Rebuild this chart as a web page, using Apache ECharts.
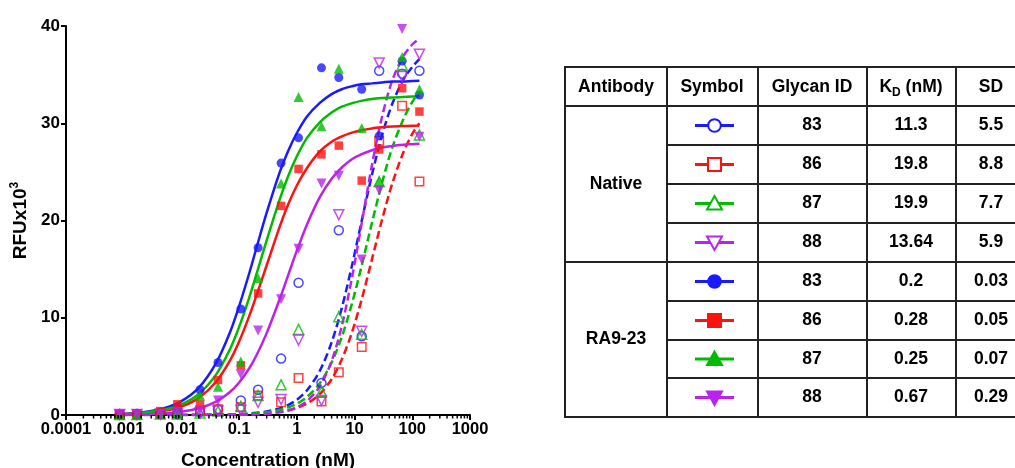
<!DOCTYPE html>
<html><head><meta charset="utf-8">
<script src="https://cdn.jsdelivr.net/npm/echarts@6/dist/echarts.min.js"></script>
<style>html,body{margin:0;padding:0;background:#fff}#c{width:1015px;height:468px}</style>
</head><body><div id="c"></div>
<script>
// ---------------- data ----------------
const doses = [0.00085, 0.0017, 0.0043, 0.0085, 0.021, 0.043, 0.107, 0.213, 0.533, 1.07, 2.67, 5.33, 13.3, 26.7, 66.7, 133];
const ra83 = [0.05, 0.1, 0.3, 0.8, 2.6, 5.4, 10.9, 17.2, 25.9, 28.5, 35.7, 34.7, 33.5, 28.7, 36.4, 32.9];
const ra86 = [0.05, 0.1, 0.4, 1.1, 1.1, 3.6, 5.1, 12.5, 21.5, 25.3, 26.8, 27.7, 24.1, 27.3, 33.6, 31.2];
const ra87 = [0.05, 0.05, 0.2, 0.3, 2.0, 2.9, 5.5, 14.1, 23.8, 32.7, 29.7, 35.6, 29.5, 24.0, 36.8, 33.5];
const ra88 = [0.05, 0.05, 0.1, 0.3, 0.5, 1.5, 4.2, 8.7, 11.9, 17.1, 23.8, 24.6, 16.0, 23.1, 39.7, 28.6];
const n83 = [0.05, 0.05, 0.1, 0.1, 0.3, 0.6, 1.5, 2.6, 5.8, 13.6, 3.3, 19.0, 8.1, 35.4, 35.1, 35.4];
const n86 = [0.05, 0.05, 0.1, 0.2, 0.4, 0.6, 0.8, 2.0, 1.3, 3.8, 1.4, 4.4, 7.0, 28.2, 31.8, 24.0];
const n87 = [0.05, 0.05, 0.1, 0.1, 0.2, 0.4, 0.9, 2.0, 3.1, 8.8, 2.4, 10.1, 8.3, 24.0, 36.0, 28.8];
const n88 = [0.05, 0.05, 0.1, 0.1, 0.2, 0.4, 0.5, 1.3, 1.6, 7.7, 1.5, 20.6, 8.6, 36.2, 34.8, 37.1];

// fitted curves
const curveX = [0.00085, 0.002, 0.005, 0.01, 0.02, 0.04, 0.07, 0.1, 0.15, 0.2, 0.3, 0.5, 0.7, 1, 1.5, 2.5, 4, 6, 9, 13, 20, 30, 45, 70, 100, 133];
const fitRA83 = [0.11, 0.27, 0.70, 1.42, 2.81, 5.36, 8.57, 11.2, 14.6, 17.2, 20.8, 24.9, 27.1, 29.0, 30.7, 32.1, 33.0, 33.5, 33.8, 34.0, 34.1, 34.2, 34.3, 34.3, 34.35, 34.36];
const fitRA86 = [0.07, 0.17, 0.43, 0.87, 1.76, 3.42, 5.64, 7.55, 10.19, 12.3, 15.4, 19.3, 21.6, 23.6, 25.4, 27.1, 28.1, 28.65, 29.04, 29.28, 29.47, 29.58, 29.66, 29.71, 29.74, 29.76];
const fitRA87 = [0.08, 0.21, 0.53, 1.08, 2.16, 4.18, 6.82, 9.06, 12.1, 14.5, 17.96, 22.1, 24.5, 26.6, 28.5, 30.1, 31.1, 31.7, 32.06, 32.3, 32.5, 32.6, 32.66, 32.7, 32.74, 32.75];
const fitRA88 = [0.03, 0.06, 0.16, 0.34, 0.69, 1.38, 2.39, 3.35, 4.81, 6.14, 8.42, 11.86, 14.3, 16.9, 19.6, 22.4, 24.3, 25.45, 26.3, 26.8, 27.23, 27.5, 27.67, 27.79, 27.85, 27.9];
const fitN83 = [0, 0, 0, 0.01, 0.01, 0.03, 0.06, 0.09, 0.15, 0.22, 0.36, 0.68, 1.02, 1.57, 2.54, 4.54, 7.46, 10.99, 15.35, 19.7, 24.7, 28.8, 32.0, 34.5, 35.8, 36.6];
const fitN86 = [0, 0, 0, 0, 0.01, 0.01, 0.03, 0.04, 0.07, 0.10, 0.16, 0.31, 0.46, 0.72, 1.17, 2.16, 3.68, 5.7, 8.49, 11.69, 16.0, 20.1, 23.8, 27.0, 28.9, 30.0];
const fitN87 = [0, 0, 0, 0, 0.01, 0.03, 0.05, 0.08, 0.12, 0.17, 0.28, 0.52, 0.77, 1.16, 1.85, 3.28, 5.39, 8.02, 11.45, 15.13, 19.76, 23.9, 27.5, 30.4, 32.2, 33.2];
const fitN88 = [0, 0, 0, 0, 0, 0.01, 0.02, 0.03, 0.05, 0.07, 0.13, 0.28, 0.47, 0.79, 1.43, 2.95, 5.55, 9.14, 14.09, 19.4, 25.7, 30.7, 34.4, 36.9, 38.1, 38.7];

const xTickLabels = ['0.0001', '0.001', '0.01', '0.1', '1', '10', '100', '1000'];
const minorMantissas = [2, 3, 4, 5, 6, 7, 8, 9];
const decades = [0.0001, 0.001, 0.01, 0.1, 1, 10, 100];

// table
const tableHeaders = ['Antibody', 'Symbol', 'Glycan ID', 'K{sub|D} (nM)', 'SD'];
const antibodyGroups = ['Native', 'RA9-23'];
const glycanIds = ['83', '86', '87', '88', '83', '86', '87', '88'];
const kdValues = ['11.3', '19.8', '19.9', '13.64', '0.2', '0.28', '0.25', '0.67'];
const sdValues = ['5.5', '8.8', '7.7', '5.9', '0.03', '0.05', '0.07', '0.29'];

// ---------------- styling ----------------
const FONT = 'Liberation Sans, Arial, Helvetica, sans-serif';
const C = { blue: '#1a1aff', red: '#ff1111', green: '#00bb00', mag: '#bb22ee' };
const groups = [
  { pts: n83, fit: fitN83, color: C.blue, sym: 'circle', rot: 0, filled: false, dashed: true },
  { pts: n86, fit: fitN86, color: C.red, sym: 'rect', rot: 0, filled: false, dashed: true },
  { pts: n87, fit: fitN87, color: C.green, sym: 'triangle', rot: 0, filled: false, dashed: true },
  { pts: n88, fit: fitN88, color: C.mag, sym: 'triangle', rot: 180, filled: false, dashed: true },
  { pts: ra83, fit: fitRA83, color: C.blue, sym: 'circle', rot: 0, filled: true, dashed: false },
  { pts: ra86, fit: fitRA86, color: C.red, sym: 'rect', rot: 0, filled: true, dashed: false },
  { pts: ra87, fit: fitRA87, color: C.green, sym: 'triangle', rot: 0, filled: true, dashed: false },
  { pts: ra88, fit: fitRA88, color: C.mag, sym: 'triangle', rot: 180, filled: true, dashed: false }
];

const series = [];
groups.forEach((g, i) => {
  series.push({
    type: 'line', name: 'fit' + i, data: curveX.map((x, k) => [x, g.fit[k]]),
    showSymbol: false, symbol: 'none', smooth: 0.3, silent: true,
    lineStyle: { color: g.color, width: 2.5, type: g.dashed ? [8, 4] : 'solid' }, z: 2
  });
});
groups.forEach((g, i) => {
  series.push({
    type: 'scatter', name: 'pts' + i, data: doses.map((x, k) => [x, g.pts[k]]),
    symbol: g.sym, symbolRotate: g.rot,
    symbolSize: g.sym === 'triangle' ? 10 : (g.sym === 'rect' ? 8.5 : 9),
    itemStyle: g.filled ? { color: g.color } : { color: 'rgba(255,255,255,0)', borderColor: g.color, borderWidth: 1.5 },
    z: 3
  });
});
const minorTicks = [];
decades.forEach(d => minorMantissas.forEach(m => minorTicks.push([m * d, 0])));
series.push({
  type: 'custom', name: 'minor', data: minorTicks, silent: true, clip: false, z: 5,
  renderItem: (p, api) => {
    const pt = api.coord([api.value(0), 0]);
    return { type: 'line', shape: { x1: pt[0], y1: pt[1], x2: pt[0], y2: pt[1] + 3.5 }, style: { stroke: '#000', lineWidth: 1.5 } };
  }
});

// ---------------- table graphic ----------------
const cols = [565, 667, 758, 867, 956, 1030];
const rows = [67, 106, 145, 184, 223, 262, 301, 340, 378, 417];
const els = [];
const LC = '#222';
function hline(x1, x2, y) { els.push({ type: 'line', shape: { x1, y1: y, x2, y2: y }, style: { stroke: LC, lineWidth: 2 } }); }
function vline(x, y1, y2) { els.push({ type: 'line', shape: { x1: x, y1, x2: x, y2 }, style: { stroke: LC, lineWidth: 2 } }); }
[rows[0], rows[1], rows[5], rows[9]].forEach(y => hline(cols[0] - 1, cols[5], y));
[rows[2], rows[3], rows[4], rows[6], rows[7], rows[8]].forEach(y => hline(cols[1], cols[5], y));
cols.forEach(x => vline(x, rows[0] - 1, rows[9] + 1));
const TS = { fontFamily: FONT, fontWeight: 'bold', fontSize: 17.5, fill: '#000', align: 'center', verticalAlign: 'middle' };
function txt(text, x, y, extra) {
  els.push({ type: 'text', x, y, style: Object.assign({}, TS, { text }, extra || {}) });
}
const cx = i => (cols[i] + cols[i + 1]) / 2;
const cy = r => (rows[r] + rows[r + 1]) / 2;
const colCenters = [616, 712, 812, 911, 991];
tableHeaders.forEach((h, i) => txt(h, colCenters[i], cy(0) + 1, { rich: { sub: { fontFamily: FONT, fontWeight: 'bold', fontSize: 12, padding: [10, 0, 0, 0] } } }));
antibodyGroups.forEach((a, i) => txt(a, cx(0), (rows[1 + i * 4] + rows[5 + i * 4]) / 2));
glycanIds.forEach((v, r) => txt(v, colCenters[2], cy(r + 1)));
kdValues.forEach((v, r) => txt(v, colCenters[3], cy(r + 1)));
sdValues.forEach((v, r) => txt(v, colCenters[4], cy(r + 1)));
groups.forEach((g, r) => {
  const y = cy(r + 1), x = 714.5;
  els.push({ type: 'line', shape: { x1: 695, y1: y, x2: 734, y2: y }, style: { stroke: g.color, lineWidth: 3 }, z: 10 });
  const st = { fill: g.filled ? g.color : '#fff', stroke: g.color, lineWidth: 2 };
  let shp;
  if (g.sym === 'circle') shp = { type: 'circle', shape: { cx: x, cy: y, r: 6.3 } };
  else if (g.sym === 'rect') shp = { type: 'rect', shape: { x: x - 6.5, y: y - 6.5, width: 13, height: 13 } };
  else if (g.rot === 0) shp = { type: 'polygon', shape: { points: [[x, y - 7.5], [x + 7.5, y + 6], [x - 7.5, y + 6]] } };
  else shp = { type: 'polygon', shape: { points: [[x, y + 7.5], [x + 7.5, y - 6], [x - 7.5, y - 6]] } };
  shp.style = st; shp.z = 11;
  els.push(shp);
});

// ---------------- chart ----------------
const chart = echarts.init(document.getElementById('c'), null, { renderer: 'canvas' });
chart.setOption({
  animation: false,
  backgroundColor: '#fff',
  textStyle: { fontFamily: FONT },
  grid: { left: 66, right: 545, top: 26, bottom: 53, containLabel: false, outerBoundsMode: 'none' },
  xAxis: {
    type: 'log', logBase: 10, min: 0.0001, max: 1000, splitNumber: 7,
    name: 'Concentration (nM)', nameLocation: 'middle', nameGap: 36,
    nameTextStyle: { fontFamily: FONT, fontWeight: 'bold', fontSize: 19, color: '#000' },
    axisLine: { lineStyle: { color: '#000', width: 2 } },
    axisTick: { length: 5, lineStyle: { color: '#000', width: 2 } },
    splitLine: { show: false },
    axisLabel: {
      color: '#000', fontWeight: 'bold', fontSize: 16.5, fontFamily: FONT, margin: 6,
      formatter: (v) => xTickLabels[Math.round(Math.log10(v)) + 4]
    }
  },
  yAxis: {
    type: 'value', min: 0, max: 40, interval: 10,
    name: 'RFUx10{sup|3}', nameLocation: 'middle', nameGap: 34, nameRotate: 90,
    nameTextStyle: { fontFamily: FONT, fontWeight: 'bold', fontSize: 19, color: '#000',
      rich: { sup: { fontFamily: FONT, fontWeight: 'bold', fontSize: 12, color: '#000', padding: [0, 0, 11, 0] } } },
    axisLine: { show: true, lineStyle: { color: '#000', width: 2 } },
    axisTick: { show: true, length: 5, lineStyle: { color: '#000', width: 2 } },
    splitLine: { show: false },
    axisLabel: { color: '#000', fontWeight: 'bold', fontSize: 17, fontFamily: FONT, margin: 6 }
  },
  series,
  graphic: { elements: els }
});
</script></body></html>
